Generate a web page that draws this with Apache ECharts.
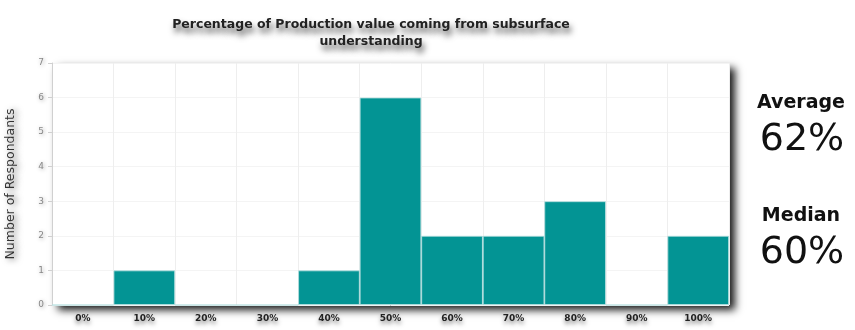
<!DOCTYPE html>
<html>
<head>
<meta charset="utf-8">
<script src="https://cdn.jsdelivr.net/npm/echarts@6/dist/echarts.min.js"></script>
<style>
  html, body { margin: 0; padding: 0; background: #ffffff; }
  #chart { width: 855px; height: 330px; }
</style>
</head>
<body>
<div id="chart"></div>
<script>
// Histogram of survey answers
const categories = ['0%', '10%', '20%', '30%', '40%', '50%', '60%', '70%', '80%', '90%', '100%'];
const respondents = [0, 1, 0, 0, 1, 6, 2, 2, 3, 0, 2];
const yTicks = [0, 1, 2, 3, 4, 5, 6, 7];
const summary = [
  { label: 'Average', value: '62%' },
  { label: 'Median', value: '60%' }
];

const chart = echarts.init(document.getElementById('chart'), null, { renderer: 'canvas' });

const graphics = [];
summary.forEach((s, i) => {
  const top = 94 + i * 113;
  graphics.push({
    type: 'text', x: 801, y: top,
    style: { text: s.label, font: 'bold 19px "DejaVu Sans"', fill: '#111', align: 'center', verticalAlign: 'top' }
  });
  graphics.push({
    type: 'text', x: 802, y: top + 27,
    style: { text: s.value, font: '38px "DejaVu Sans"', fill: '#111', align: 'center', verticalAlign: 'top' }
  });
});

chart.setOption({
  animation: false,
  backgroundColor: '#ffffff',
  title: {
    text: 'Percentage of Production value coming from subsurface\nunderstanding',
    left: 366,
    textAlign: 'center',
    top: 11,
    textStyle: {
      fontFamily: 'DejaVu Sans', fontWeight: 'bold', fontSize: 12.5, color: '#222', lineHeight: 17,
      textShadowColor: 'rgba(0,0,0,0.7)', textShadowBlur: 6, textShadowOffsetX: 2, textShadowOffsetY: 5
    }
  },
  grid: {
    left: 52, right: 126, top: 63, bottom: 25,
    outerBoundsMode: 'none',
    containLabel: false,
    show: true,
    backgroundColor: '#ffffff',
    borderWidth: 0,
    shadowColor: 'rgba(0,0,0,0.9)',
    shadowBlur: 8,
    shadowOffsetX: 6,
    shadowOffsetY: 5
  },
  xAxis: {
    type: 'category',
    data: categories,
    axisLine: { show: false },
    axisTick: { show: false },
    splitLine: { show: true, lineStyle: { color: '#eeeeee', width: 1 } },
    axisLabel: {
      fontFamily: 'DejaVu Sans', fontWeight: 'bold', fontSize: 9, color: '#222', margin: 9,
      textShadowColor: 'rgba(0,0,0,0.5)', textShadowBlur: 4, textShadowOffsetY: 3
    }
  },
  yAxis: {
    type: 'value',
    min: 0, max: 7, interval: 1,
    name: 'Number of Respondants',
    nameLocation: 'middle',
    nameGap: 35,
    nameTextStyle: {
      fontFamily: 'DejaVu Sans', fontSize: 12.5, color: '#333',
      textShadowColor: 'rgba(0,0,0,0.6)', textShadowBlur: 6, textShadowOffsetX: 3, textShadowOffsetY: 1
    },
    axisLine: { show: true, lineStyle: { color: '#d0d0d0' } },
    axisTick: { show: true, length: 4, lineStyle: { color: '#d0d0d0' } },
    splitLine: { show: true, lineStyle: { color: '#f4f4f4' } },
    axisLabel: {
      fontFamily: 'DejaVu Sans', fontSize: 9, color: '#888', margin: 8,
      formatter: v => (yTicks.includes(v) ? String(v) : ''),
      textShadowColor: 'rgba(0,0,0,0.4)', textShadowBlur: 4, textShadowOffsetX: 1, textShadowOffsetY: 1
    }
  },
  series: [{
    type: 'bar',
    data: respondents,
    barWidth: '100%',
    barCategoryGap: '0%',
    itemStyle: { color: '#039494', borderColor: '#b8e0e0', borderWidth: 0.8 }
  }],
  graphic: graphics
});
</script>
</body>
</html>
